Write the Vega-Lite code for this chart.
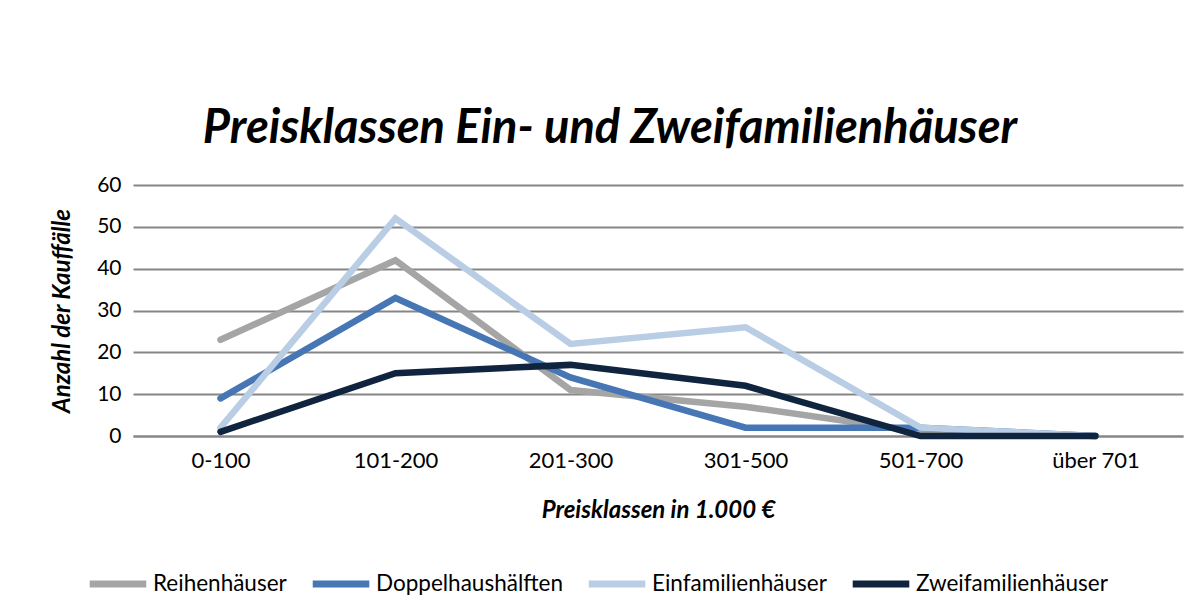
{
  "$schema": "https://vega.github.io/schema/vega-lite/v6.json",
  "width": 1050,
  "height": 251,
  "autosize": {"type": "none"},
  "padding": {"left": 133, "top": 185, "right": 17, "bottom": 179},
  "background": "white",
  "title": {
    "text": "Preisklassen Ein- und Zweifamilienhäuser",
    "font": "Lato",
    "fontSize": 47,
    "fontWeight": "bold",
    "fontStyle": "italic",
    "color": "#000000",
    "anchor": "middle",
    "dx": -48,
    "offset": 21
  },
  "data": {
    "values": [
      {"klasse": "0-100", "typ": "Reihenhäuser", "anzahl": 23},
      {"klasse": "101-200", "typ": "Reihenhäuser", "anzahl": 42},
      {"klasse": "201-300", "typ": "Reihenhäuser", "anzahl": 11},
      {"klasse": "301-500", "typ": "Reihenhäuser", "anzahl": 7},
      {"klasse": "501-700", "typ": "Reihenhäuser", "anzahl": 1},
      {"klasse": "über 701", "typ": "Reihenhäuser", "anzahl": 0},
      {"klasse": "0-100", "typ": "Doppelhaushälften", "anzahl": 9},
      {"klasse": "101-200", "typ": "Doppelhaushälften", "anzahl": 33},
      {"klasse": "201-300", "typ": "Doppelhaushälften", "anzahl": 14},
      {"klasse": "301-500", "typ": "Doppelhaushälften", "anzahl": 2},
      {"klasse": "501-700", "typ": "Doppelhaushälften", "anzahl": 2},
      {"klasse": "über 701", "typ": "Doppelhaushälften", "anzahl": 0},
      {"klasse": "0-100", "typ": "Einfamilienhäuser", "anzahl": 2},
      {"klasse": "101-200", "typ": "Einfamilienhäuser", "anzahl": 52},
      {"klasse": "201-300", "typ": "Einfamilienhäuser", "anzahl": 22},
      {"klasse": "301-500", "typ": "Einfamilienhäuser", "anzahl": 26},
      {"klasse": "501-700", "typ": "Einfamilienhäuser", "anzahl": 2},
      {"klasse": "über 701", "typ": "Einfamilienhäuser", "anzahl": 0},
      {"klasse": "0-100", "typ": "Zweifamilienhäuser", "anzahl": 1},
      {"klasse": "101-200", "typ": "Zweifamilienhäuser", "anzahl": 15},
      {"klasse": "201-300", "typ": "Zweifamilienhäuser", "anzahl": 17},
      {"klasse": "301-500", "typ": "Zweifamilienhäuser", "anzahl": 12},
      {"klasse": "501-700", "typ": "Zweifamilienhäuser", "anzahl": 0},
      {"klasse": "über 701", "typ": "Zweifamilienhäuser", "anzahl": 0}
    ]
  },
  "mark": {"type": "line", "strokeWidth": 6.5, "strokeCap": "round", "strokeJoin": "miter"},
  "encoding": {
    "x": {
      "field": "klasse",
      "type": "ordinal",
      "sort": ["0-100", "101-200", "201-300", "301-500", "501-700", "über 701"],
      "scale": {"paddingInner": 0, "paddingOuter": 0.5, "align": 0.5},
      "axis": {
        "title": "Preisklassen in 1.000 €",
        "titleFont": "Lato",
        "titleFontSize": 24,
        "titleFontWeight": "bold",
        "titleFontStyle": "italic",
        "titleColor": "#000000",
        "titlePadding": 27,
        "labelFont": "Lato",
        "labelFontSize": 22,
        "labelColor": "#000000",
        "labelAngle": 0,
        "labelPadding": 14,
        "ticks": false,
        "domain": true,
        "domainColor": "#868686",
        "domainWidth": 2,
        "grid": false
      }
    },
    "y": {
      "field": "anzahl",
      "type": "quantitative",
      "scale": {"domain": [0, 60], "nice": false},
      "axis": {
        "title": "Anzahl der Kauffälle",
        "titleFont": "Lato",
        "titleFontSize": 24,
        "titleFontWeight": "bold",
        "titleFontStyle": "italic",
        "titleColor": "#000000",
        "titlePadding": 22,
        "labelFont": "Lato",
        "labelFontSize": 21,
        "labelColor": "#000000",
        "labelPadding": 12,
        "values": [0, 10, 20, 30, 40, 50, 60],
        "ticks": false,
        "domain": false,
        "grid": true,
        "gridColor": "#868686",
        "gridWidth": 2
      }
    },
    "color": {
      "field": "typ",
      "type": "nominal",
      "sort": ["Reihenhäuser", "Doppelhaushälften", "Einfamilienhäuser", "Zweifamilienhäuser"],
      "scale": {
        "domain": ["Reihenhäuser", "Doppelhaushälften", "Einfamilienhäuser", "Zweifamilienhäuser"],
        "range": ["#A5A5A5", "#4676B4", "#B9CDE5", "#10243F"]
      },
      "legend": {
        "title": null,
        "orient": "none",
        "direction": "horizontal",
        "legendX": -47,
        "legendY": 367,
        "labelFont": "Lato",
        "labelFontSize": 22.5,
        "labelColor": "#000000",
        "labelLimit": 0,
        "labelOffset": 3,
        "symbolType": "stroke",
        "symbolSize": 3200,
        "symbolStrokeWidth": 7,
        "columnPadding": 11
      }
    }
  },
  "config": {
    "view": {"stroke": null}
  }
}
